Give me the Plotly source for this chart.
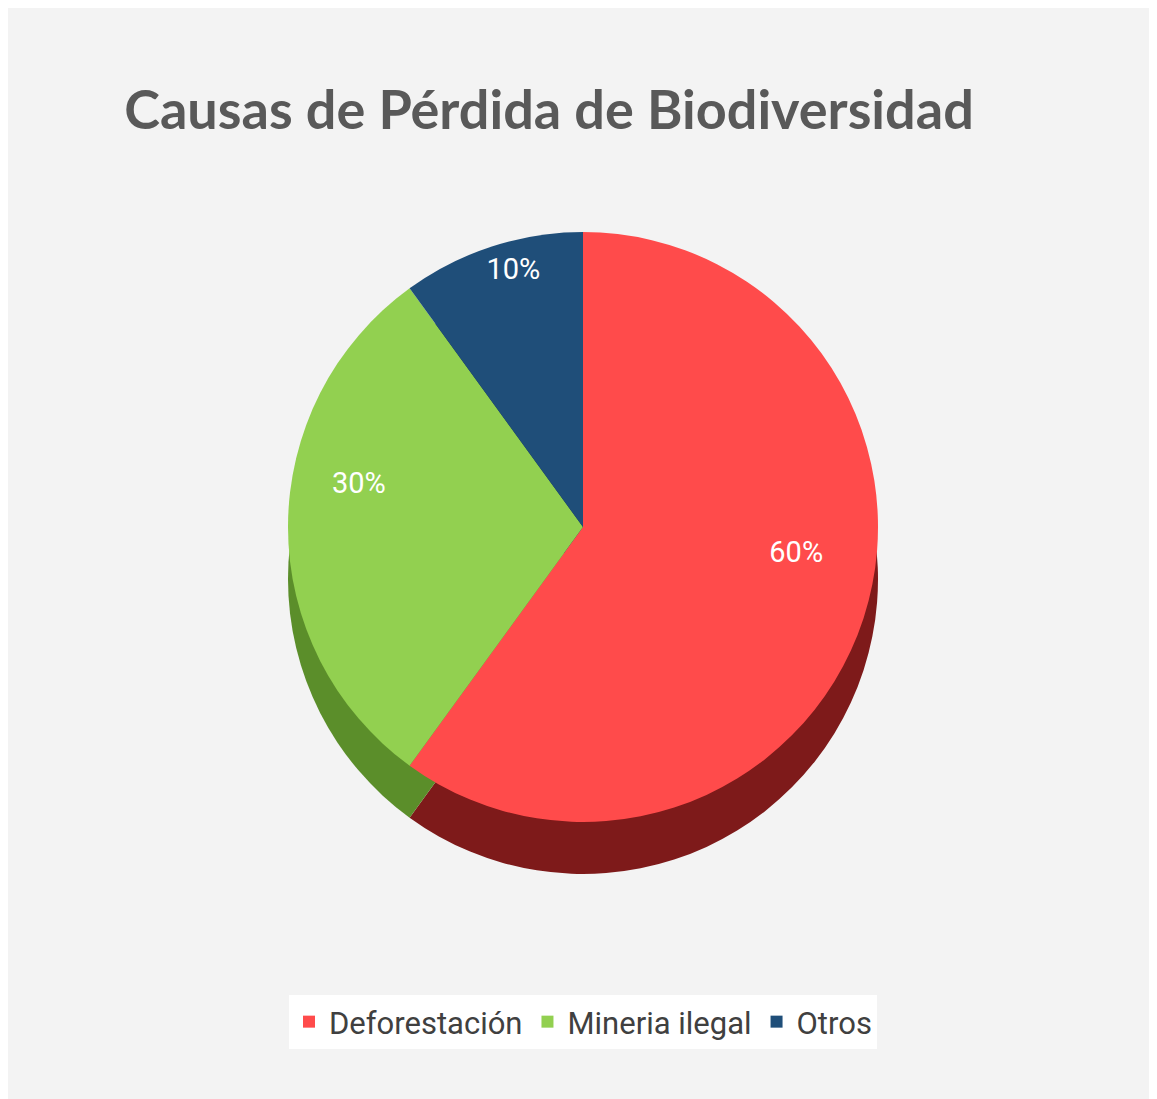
import plotly.graph_objects as go

categories = ["Deforestación", "Mineria ilegal", "Otros"]
values = [60, 30, 10]
top_colors = ["#FF4B4B", "#92D050", "#1F4E79"]
side_colors = ["#7E1A1A", "#5B8E2A", "#13314F"]

W, H = 1157, 1099
OFF = 8  # browser body margin

def xd(a, b):
    return [(a - OFF) / W, (b - OFF) / W]

def yd(top, bottom):
    return [1 - (bottom - OFF) / H, 1 - (top - OFF) / H]

LEFT, RIGHT, TOP, BOTTOM, DEPTH = 288, 878, 232, 822, 52
LABEL_LIFT = 44  # perspective: labels sit higher on the tilted face

fig = go.Figure()

# "side" of the 3D-looking pie: same data, darker colours, shifted down
fig.add_trace(go.Pie(
    labels=categories, values=values, sort=False, direction="clockwise", rotation=0,
    marker=dict(colors=side_colors, line=dict(width=0)),
    textinfo="none", hoverinfo="skip", showlegend=False,
    domain=dict(x=xd(LEFT, RIGHT), y=yd(TOP + DEPTH, BOTTOM + DEPTH)),
))

# top face
fig.add_trace(go.Pie(
    labels=categories, values=values, sort=False, direction="clockwise", rotation=0,
    marker=dict(colors=top_colors, line=dict(width=0)),
    textinfo="none",
    domain=dict(x=xd(LEFT, RIGHT), y=yd(TOP, BOTTOM)),
))

# transparent ring carrying the percentage labels near the outer edge
fig.add_trace(go.Pie(
    labels=categories, values=values, sort=False, direction="clockwise", rotation=0,
    hole=0.52,
    marker=dict(colors=["rgba(0,0,0,0)"] * len(values), line=dict(width=0)),
    textinfo="percent", textposition="inside", insidetextorientation="horizontal",
    textfont=dict(color="white", size=29, family="Roboto, sans-serif"),
    hoverinfo="skip", showlegend=False,
    domain=dict(x=xd(LEFT, RIGHT), y=yd(TOP - LABEL_LIFT, BOTTOM - LABEL_LIFT)),
))

fig.update_layout(
    width=W, height=H,
    margin=dict(l=0, r=0, t=0, b=0),
    paper_bgcolor="white",
    plot_bgcolor="white",
    title=dict(
        text="Causas de Pérdida de Biodiversidad",
        x=(549 - OFF) / W, xanchor="center", y=1 - (110 - OFF) / H, yanchor="middle",
        font=dict(size=54, color="#595959", family="Lato, Open Sans, sans-serif", weight="bold"),
    ),
    legend=dict(
        orientation="h", x=(583 - OFF) / W, xanchor="center", y=1 - (1022 - OFF) / H, yanchor="middle",
        bgcolor="white", borderwidth=0,
        font=dict(size=31, color="#404040", family="Roboto, sans-serif"),
        itemsizing="constant",
    ),
    shapes=[dict(type="rect", xref="paper", yref="paper", x0=0, x1=1, y0=0, y1=1,
                 fillcolor="#F3F3F3", line=dict(width=0), layer="below")],
)

fig.write_html("out.html")
